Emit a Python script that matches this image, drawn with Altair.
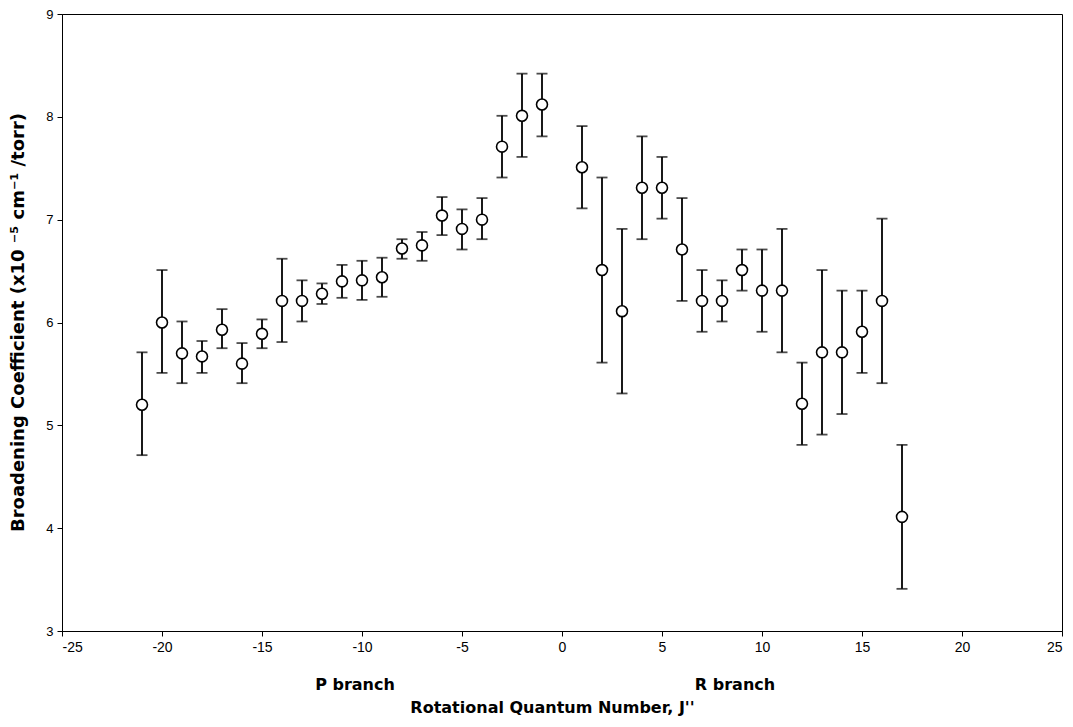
import altair as alt
import pandas as pd

J = [-21, -20, -19, -18, -17, -16, -15, -14, -13, -12, -11, -10, -9, -8, -7, -6, -5, -4, -3, -2, -1,
     1, 2, 3, 4, 5, 6, 7, 8, 9, 10, 11, 12, 13, 14, 15, 16, 17]
coef = [5.20, 6.00, 5.70, 5.67, 5.93, 5.60, 5.89, 6.21, 6.21, 6.28, 6.40, 6.41, 6.44, 6.72, 6.75, 7.04, 6.91, 7.00, 7.71, 8.01, 8.12,
        7.51, 6.51, 6.11, 7.31, 7.31, 6.71, 6.21, 6.21, 6.51, 6.31, 6.31, 5.21, 5.71, 5.71, 5.91, 6.21, 4.11]
low = [4.71, 5.51, 5.41, 5.51, 5.75, 5.41, 5.75, 5.81, 6.01, 6.18, 6.24, 6.22, 6.25, 6.62, 6.60, 6.85, 6.71, 6.81, 7.41, 7.61, 7.81,
       7.11, 5.61, 5.31, 6.81, 7.01, 6.21, 5.91, 6.01, 6.31, 5.91, 5.71, 4.81, 4.91, 5.11, 5.51, 5.41, 3.41]
high = [5.71, 6.51, 6.01, 5.82, 6.13, 5.80, 6.03, 6.62, 6.41, 6.38, 6.56, 6.60, 6.63, 6.81, 6.88, 7.22, 7.10, 7.21, 8.01, 8.42, 8.42,
        7.91, 7.41, 6.91, 7.81, 7.61, 7.21, 6.51, 6.41, 6.71, 6.71, 6.91, 5.61, 6.51, 6.31, 6.31, 7.01, 4.81]

branch_labels = ["P branch", "R branch"]
branch_x = [-10.35, 8.65]

df = pd.DataFrame({"J": J, "coef": coef, "low": low, "high": high})
lab = pd.DataFrame({"x": branch_x, "t": branch_labels})

FONT = "Liberation Sans"
TFONT = "DejaVu Sans"

xs = alt.Scale(domain=[-25, 25], nice=False, zero=False)
ys = alt.Scale(domain=[3, 9], nice=False, zero=False)

xaxis = alt.Axis(values=list(range(-25, 26, 5)), labelExpr="toString(datum.value)",
                 title="Rotational Quantum Number, J''",
                 grid=False, tickSize=5, labelFontSize=14, labelFont=FONT, labelColor="black",
                 titleFont=TFONT, titleFontSize=16, titleFontWeight="bold", titleColor="black",
                 titlePadding=45, titleX=490, domainColor="black", tickColor="black", labelPadding=4)
yaxis = alt.Axis(values=list(range(3, 10)), labelExpr="toString(datum.value)",
                 title="Broadening Coefficient (x10  ⁻⁵  cm⁻¹  /torr)",
                 grid=False, tickSize=5, labelFontSize=13, labelFont=FONT, labelColor="black",
                 titleFont=TFONT, titleFontSize=18, titleFontWeight="bold", titleColor="black",
                 titleAngle=270, titleAlign="center", titleBaseline="middle", titleX=-44, titleY=308,
                 domainColor="black", tickColor="black", labelPadding=4)

base = alt.Chart(df)

bars = base.mark_rule(color="black", strokeWidth=1.8).encode(
    x=alt.X("J:Q", scale=xs, axis=xaxis),
    y=alt.Y("low:Q", scale=ys, axis=yaxis),
    y2="high:Q",
)
cap_lo = base.mark_tick(color="black", orient="horizontal", size=11, thickness=1.8).encode(
    x=alt.X("J:Q", scale=xs), y=alt.Y("low:Q", scale=ys))
cap_hi = base.mark_tick(color="black", orient="horizontal", size=11, thickness=1.8).encode(
    x=alt.X("J:Q", scale=xs), y=alt.Y("high:Q", scale=ys))
pts = base.mark_point(shape="circle", filled=True, fill="white", stroke="black",
                      strokeWidth=1.6, size=120, opacity=1).encode(
    x=alt.X("J:Q", scale=xs), y=alt.Y("coef:Q", scale=ys))

txt = alt.Chart(lab).mark_text(font=TFONT, fontSize=16, fontWeight="bold", color="black",
                                align="center", baseline="middle").encode(
    x=alt.X("x:Q", scale=xs), y=alt.value(671), text="t:N")

chart = alt.layer(bars, cap_lo, cap_hi, pts, txt).properties(
    width=1000, height=617,
    background="white",
    autosize=alt.AutoSizeParams(type="none"),
    padding={"left": 54, "top": 6, "right": 3, "bottom": 85},
).configure_view(stroke="black", strokeWidth=1)

chart.save("out.html", embed_options={"renderer": "svg", "actions": False})
